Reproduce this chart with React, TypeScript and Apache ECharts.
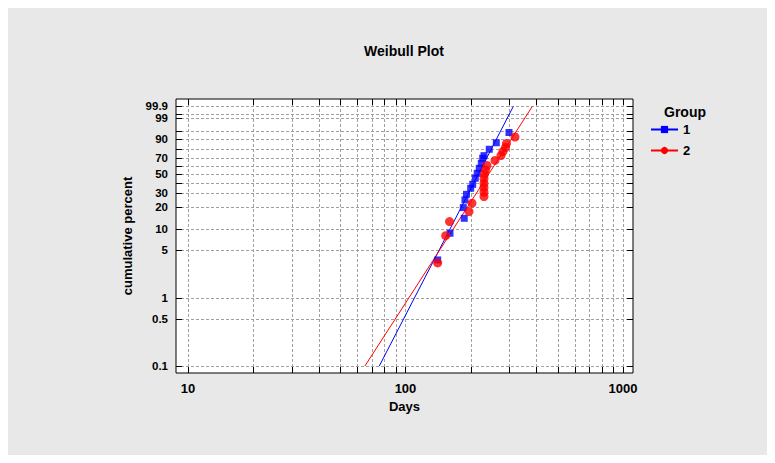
import React, { useEffect, useRef } from "react";
import * as echarts from "echarts";

// ---- data ----
const group1Days = [140.6, 160.2, 186.3, 184.4, 187.7, 190.8, 199.4, 203.7, 209.4, 213.8, 218.4, 223.1, 226.4, 229.6, 242.8, 261.5, 299.2];
const group1Pct = [3.64, 8.79, 14.2, 19.8, 24.9, 29.3, 34.7, 38.6, 45.1, 50.8, 56.9, 63.1, 69.4, 72.6, 80.0, 86.6, 94.2];
const group2Days = [140.6, 153.0, 159.4, 195.9, 202.2, 229.6, 229.6, 229.6, 229.6, 229.6, 230.8, 233.3, 237.0, 257.9, 274.8, 280.7, 288.3, 291.3, 318.7];
const group2Pct = [3.29, 8.13, 12.8, 17.5, 22.6, 27.5, 31.3, 35.5, 39.6, 44.8, 50.0, 54.8, 60.4, 66.7, 72.8, 77.5, 81.9, 85.9, 91.3];
const fit1Days = [75.8, 313.0];
const fit1Pct = [0.1, 99.9];
const fit2Days = [65.1, 382.8];
const fit2Pct = [0.1, 99.9];

const xLabelDays = [10, 100, 1000];
const xGridDays = [10, 20, 30, 40, 50, 60, 70, 80, 90, 100, 200, 300, 400, 500, 600, 700, 800, 900, 1000];
const yLabelPct = [0.1, 0.5, 1, 5, 10, 20, 30, 50, 70, 90, 99, 99.9];
const yGridPct = [0.1, 0.5, 1, 5, 10, 20, 30, 40, 50, 60, 70, 80, 90, 95, 99, 99.5, 99.9];

const seriesNames = ["1", "2"];
const seriesColors = ["#0000ff", "#ff0000"];

// ---- scale transforms (log days, Weibull probability) ----
const tx = (d: number) => Math.log10(d);
const ty = (p: number) => Math.log(-Math.log(1 - p / 100));

const X_MIN = 0.945;
const X_MAX = 3.046;
const Y_MIN = -7.146;
const Y_MAX = 2.188;

const FONT = 'Arial, "Liberation Sans", Helvetica, sans-serif';

function fmtPct(v: number): string {
  const p = yLabelPct.find((q) => Math.abs(ty(q) - v) < 1e-6);
  return p === undefined ? "" : String(p);
}
function fmtDays(v: number): string {
  const d = xLabelDays.find((q) => Math.abs(tx(q) - v) < 1e-6);
  return d === undefined ? "" : String(d);
}

export default function App() {
  const ref = useRef<HTMLDivElement>(null);

  useEffect(() => {
    if (!ref.current) return;
    const chart = echarts.init(ref.current, null, { renderer: "svg" });

    const pts1 = group1Days.map((d, i) => [tx(d), ty(group1Pct[i])]);
    const pts2 = group2Days.map((d, i) => [tx(d), ty(group2Pct[i])]);
    const fit1 = fit1Days.map((d, i) => [tx(d), ty(fit1Pct[i])]);
    const fit2 = fit2Days.map((d, i) => [tx(d), ty(fit2Pct[i])]);

    const gridRender = (params: any, api: any) => {
      const cs = params.coordSys;
      const left = cs.x;
      const top = cs.y;
      const right = cs.x + cs.width;
      const bottom = cs.y + cs.height;
      const children: any[] = [];
      const dash = { stroke: "#a0a0a0", lineWidth: 1, lineDash: [3, 2] };
      const tick = { stroke: "#000", lineWidth: 1 };
      const TL = 6;
      xGridDays.forEach((d) => {
        const px = Math.round(api.coord([tx(d), Y_MIN])[0]) + 0.5;
        children.push({ type: "line", shape: { x1: px, y1: top, x2: px, y2: bottom }, style: dash });
        children.push({ type: "line", shape: { x1: px, y1: bottom, x2: px, y2: bottom - TL }, style: tick });
        children.push({ type: "line", shape: { x1: px, y1: top, x2: px, y2: top + TL }, style: tick });
      });
      yGridPct.forEach((p) => {
        const py = Math.round(api.coord([X_MIN, ty(p)])[1]) + 0.5;
        children.push({ type: "line", shape: { x1: left, y1: py, x2: right, y2: py }, style: dash });
        children.push({ type: "line", shape: { x1: left, y1: py, x2: left + TL, y2: py }, style: tick });
        children.push({ type: "line", shape: { x1: right, y1: py, x2: right - TL, y2: py }, style: tick });
      });
      return { type: "group", children };
    };

    const option: any = {
      animation: false,
      backgroundColor: "#e8e8e8",
      title: [
        {
          text: "Weibull Plot",
          left: 396,
          top: 36,
          textAlign: "center",
          padding: 0,
          textStyle: { fontFamily: FONT, fontSize: 14, fontWeight: "bold", color: "#000" },
        },
        {
          text: "Group",
          left: 677,
          top: 97,
          textAlign: "center",
          padding: 0,
          textStyle: { fontFamily: FONT, fontSize: 14, fontWeight: "bold", color: "#000" },
        },
      ],
      legend: {
        data: seriesNames,
        orient: "vertical",
        left: 642,
        top: 115,
        padding: 0,
        itemWidth: 27,
        itemHeight: 9,
        itemGap: 8,
        textStyle: { fontFamily: FONT, fontSize: 13, fontWeight: "bold", color: "#000" },
      },
      grid: {
        left: 168,
        top: 91,
        right: 134,
        bottom: 82,
        show: true,
        backgroundColor: "#ffffff",
        borderColor: "#000000",
        borderWidth: 1,
        containLabel: false,
      },
      xAxis: {
        type: "value",
        min: X_MIN,
        max: X_MAX,
        axisLine: { show: false },
        axisTick: { show: false },
        splitLine: { show: false },
        axisLabel: {
          customValues: xLabelDays.map(tx),
          formatter: fmtDays,
          fontFamily: FONT,
          fontSize: 13,
          fontWeight: "bold",
          color: "#000",
          margin: 9,
        },
        name: "Days",
        nameLocation: "middle",
        nameGap: 26,
        nameTextStyle: { fontFamily: FONT, fontSize: 13, fontWeight: "bold", color: "#000" },
      },
      yAxis: {
        type: "value",
        min: Y_MIN,
        max: Y_MAX,
        axisLine: { show: false },
        axisTick: { show: false },
        splitLine: { show: false },
        axisLabel: {
          customValues: yLabelPct.map(ty),
          formatter: fmtPct,
          fontFamily: FONT,
          fontSize: 11.5,
          lineHeight: 10,
          fontWeight: "bold",
          color: "#000",
          margin: 8,
        },
        name: "cumulative percent",
        nameLocation: "middle",
        nameGap: 42,
        nameTextStyle: { fontFamily: FONT, fontSize: 13, fontWeight: "bold", color: "#000" },
      },
      series: [
        {
          name: "grid",
          type: "custom",
          silent: true,
          z: 1,
          data: [0],
          renderItem: gridRender,
        },
        {
          name: "1",
          type: "line",
          z: 3,
          data: fit1,
          symbol: "rect",
          symbolSize: 7,
          showSymbol: false,
          color: seriesColors[0],
          lineStyle: { color: seriesColors[0], width: 1 },
          silent: true,
        },
        {
          name: "2",
          type: "line",
          z: 3,
          data: fit2,
          symbol: "circle",
          symbolSize: 9,
          showSymbol: false,
          color: seriesColors[1],
          lineStyle: { color: seriesColors[1], width: 1 },
          silent: true,
        },
        {
          name: "1",
          type: "scatter",
          z: 4,
          data: pts1,
          symbol: "rect",
          symbolSize: 7,
          itemStyle: { color: seriesColors[0] },
        },
        {
          name: "2",
          type: "scatter",
          z: 5,
          data: pts2,
          symbol: "circle",
          symbolSize: 9,
          itemStyle: { color: seriesColors[1] },
        },
      ],
    };

    chart.setOption(option);
    return () => chart.dispose();
  }, []);

  return <div ref={ref} style={{ width: 759, height: 447 }} />;
}
